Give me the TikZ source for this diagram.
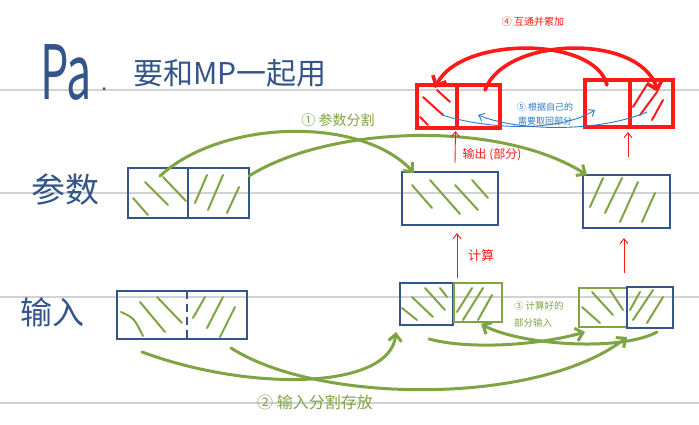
\documentclass[tikz,border=0pt]{standalone}
\usepackage{fontspec}
\setmainfont{Noto Sans CJK SC}
\usetikzlibrary{arrows.meta,calc}
\definecolor{navy}{HTML}{34558B}
\definecolor{grn}{HTML}{7EA443}
\definecolor{rd}{HTML}{FF1A1A}
\definecolor{bl}{HTML}{2E7BC4}
\definecolor{rulec}{HTML}{D2D2D2}
\begin{document}
\begin{tikzpicture}[x=1pt,y=-1pt,
  every node/.style={inner sep=0pt,outer sep=0pt},
  nbox/.style={draw=navy,line width=2.4pt,rectangle},
  gbox/.style={draw=grn,line width=2.8pt,rectangle},
  rbox/.style={draw=rd,line width=3.2pt,rectangle},
  ndiv/.style={draw=navy,line width=2.4pt},
  rdiv/.style={draw=rd,line width=3.2pt},
  ghatch/.style={draw=grn,line width=2pt,line cap=round},
  rhatch/.style={draw=rd,line width=2pt,line cap=round},
  garc/.style={draw=grn,line width=3pt,line cap=round,-{Straight Barb[length=7pt,width=13pt]}},
  rarc/.style={draw=rd,line width=3.6pt,line cap=round,-{Straight Barb[length=8pt,width=15pt]}},
  rthin/.style={draw=rd,line width=0.9pt,-{Straight Barb[length=5pt,width=8pt]}},
  bthin/.style={draw=bl,line width=0.9pt,-{Straight Barb[length=5pt,width=8pt]}},
  rulel/.style={draw=rulec,line width=1.6pt}
]
\useasboundingbox (0,0) rectangle (699,424);
\fill[white] (0,0) rectangle (699,424);
% ruled lines
\foreach \yy in {90,193,297,403} \draw[rulel] (0,\yy) -- (699,\yy);

% titles and labels
\node[text=navy,font=\fontsize{50}{50}\selectfont] (tpa) at (66,72.5) {\scalebox{0.9}[1.5]{Pa}};
\node[text=navy,font=\fontsize{22}{22}\selectfont] (tdot) at (105,89) {.};
\node[text=navy,font=\fontsize{30}{30}\selectfont] (ttl) at (230,73) {要和MP一起用};
\node[text=navy,font=\fontsize{34}{34}\selectfont] (tpar) at (65,190) {参数};
\node[text=navy,font=\fontsize{32}{32}\selectfont] (tin) at (52,312) {输入};

% boxes
\node[nbox,minimum width=121pt,minimum height=50pt] (p1) at (188.5,193) {};
\draw[ndiv] ($(p1.north)+(-0.5,0)$) -- ($(p1.south)+(-0.5,0)$);
\node[nbox,minimum width=130pt,minimum height=48pt] (i1) at (182,315) {};
\draw[ndiv,dash pattern=on 8pt off 5pt] ($(i1.north)+(5,0)$) -- ($(i1.south)+(5,0)$);
\node[nbox,minimum width=96pt,minimum height=53pt] (p2) at (450,198.5) {};
\node[nbox,minimum width=87pt,minimum height=53pt] (p3) at (626.5,201.5) {};
\node[nbox,minimum width=53pt,minimum height=42pt] (i2a) at (426.5,304) {};
\node[gbox,minimum width=48pt,minimum height=39pt] (i2b) at (478,302.5) {};
\node[gbox,minimum width=48pt,minimum height=39pt] (i3a) at (603,307.5) {};
\node[nbox,minimum width=46pt,minimum height=41pt] (i3b) at (650,307.5) {};
\node[rbox,minimum width=83pt,minimum height=43pt] (r1) at (458.5,106.5) {};
\draw[rdiv] ($(r1.north)+(-1.5,0)$) -- ($(r1.south)+(-1.5,0)$);
\node[rbox,minimum width=88pt,minimum height=47pt] (r2) at (629,103.5) {};
\draw[rdiv] ($(r2.north)+(1,0)$) -- ($(r2.south)+(1,0)$);

% green hatching
\draw[ghatch] (145,182) -- (168,205) (133,198) -- (148,215) (163,177) -- (186,201);
\draw[ghatch] (195,203) -- (207,175) (208,210) -- (223,175) (227,213) -- (239,187);
\draw[ghatch] (121,312) .. controls (134,318) .. (143,336) (140,302) -- (165,332) (157,297) -- (182,323);
\draw[ghatch] (193,318) -- (205,297) (207,328) -- (223,297) (220,337) -- (235,307);
\draw[ghatch] (412,185) -- (432,208) (430,180) -- (460,214) (455,185) -- (478,210) (472,180) -- (488,198);
\draw[ghatch] (590,207) -- (603,178) (605,213) -- (622,178) (620,222) -- (638,182) (642,222) -- (655,193);
\draw[ghatch] (412,297) -- (433,317) (425,288) -- (445,310) (440,288) -- (447,297) (402,308) -- (417,320);
\draw[ghatch] (457,312) -- (472,288) (463,320) -- (483,288) (478,320) -- (492,295);
\draw[ghatch] (592,292) -- (613,315) (610,290) -- (623,310) (582,307) -- (600,323);
\draw[ghatch] (630,310) -- (640,292) (633,320) -- (653,290) (647,323) -- (663,297);
% red hatching
\draw[rhatch] (423,97) -- (443,115) (437,90) -- (450,102) (420,117) -- (428,125);
\draw[rhatch] (633,107) -- (648,83) (640,115) -- (657,92) (652,120) -- (663,100);

% connector end points
\coordinate (g1s) at ($(p1.north west)+(32,8)$);
\coordinate (g1e) at ($(p2.north west)+(12,1)$);
\coordinate (g2s) at ($(p1.north east)+(0,8)$);
\coordinate (g2e) at ($(p3.north west)+(4,0)$);
\coordinate (gAs) at ($(i1.south west)+(25,13)$);
\coordinate (gAe) at ($(i2a.south west)+(-4,7)$);
\coordinate (gBs) at ($(i1.south east)+(-16,9)$);
\coordinate (gBe) at ($(i3b.south west)+(0,9)$);
\coordinate (gCs) at ($(i2a.south)+(2.5,14)$);
\coordinate (gCe) at ($(i3a.south west)+(6,5)$);
\coordinate (gDs) at ($(i3b.south)+(7,4)$);
\coordinate (gDe) at ($(i2b.south)+(3,2)$);
\coordinate (a1s) at ($(r2.north west)+(22,5)$);
\coordinate (a1e) at ($(r1.north west)+(18,3)$);
\coordinate (a2s) at ($(r1.north west)+(68,5)$);
\coordinate (a2e) at ($(r2.north west)+(73,12)$);
\coordinate (b1s) at ($(r1.north west)+(25,30)$);
\coordinate (b1e) at ($(r2.north west)+(10,30)$);
\coordinate (b2s) at ($(r2.north west)+(62,32)$);
\coordinate (b2e) at ($(r1.north west)+(61,30)$);

% green arcs
\draw[garc] (g1s) .. controls (220,120) and (360,115) .. (g1e);
\draw[garc] (g2s) .. controls (330,125) and (500,120) .. (g2e);
\draw[garc] (gAs) .. controls (250,392) and (390,390) .. (gAe);
\draw[garc] (gBs) .. controls (320,405) and (540,405) .. (gBe);
\draw[garc] (gCs) .. controls (470,350) and (540,345) .. (gCe);
\draw[garc] (gDs) .. controls (620,352) and (520,345) .. (gDe);

% red arcs
\draw[rarc] (a1s) .. controls (595,36) and (460,36) .. (a1e);
\draw[rarc] (a2s) .. controls (505,36) and (640,33) .. (a2e);

% blue thin arrows
\draw[bthin] (b1s) .. controls (490,130) and (560,132) .. (b1e);
\draw[bthin] (b2s) .. controls (600,132) and (520,132) .. (b2e);

% red thin arrows
\draw[rthin] ($(p2.north)+(5,-9)$) -- ($(r1.south)+(-3,3)$);
\draw[rthin] ($(p3.north)+(1.5,-18)$) -- ($(r2.south)+(-1,5)$);
\draw[rthin] ($(i2a.north east)+(4,-5)$) -- ($(p2.south)+(7,8)$);
\draw[rthin] ($(i3a.north east)+(-3,-15)$) -- ($(p3.south)+(-2.5,10)$);

% annotations
\node[text=grn,font=\fontsize{14}{14}\selectfont] (l1) at (338,120) {① 参数分割};
\node[text=grn,font=\fontsize{16}{16}\selectfont] (l2) at (315,402) {② 输入分割存放};
\node[text=grn,font=\fontsize{9.5}{17}\selectfont,align=left,anchor=west] (l3) at (514,314) {③ 计算好的\\部分输入};
\node[text=rd,font=\fontsize{10}{10}\selectfont] (l4) at (533,22) {④ 互通并累加};
\node[text=bl,font=\fontsize{9}{14}\selectfont,align=center] (l5) at (545,114) {⑤ 根据自己的\\需要取回部分};
\node[text=rd,font=\fontsize{12}{12}\selectfont] (l6) at (492,155) {输出 (部分)};
\node[text=rd,font=\fontsize{13}{13}\selectfont] (l7) at (481,256) {计算};
\end{tikzpicture}
\end{document}
